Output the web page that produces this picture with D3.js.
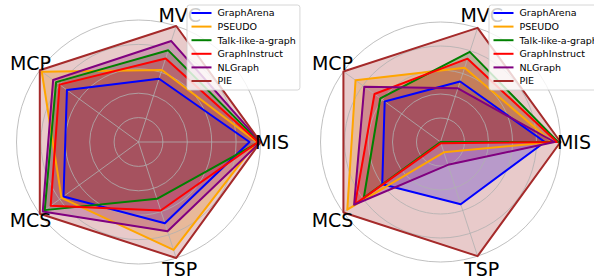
<!DOCTYPE html>
<html>
<head>
<meta charset="utf-8">
<script src="https://cdn.jsdelivr.net/npm/d3@7"></script>
<style>
  body { margin: 0; background: #fff; }
  svg { display: block; font-family: "DejaVu Sans", sans-serif; }
</style>
</head>
<body>
<div id="chart"></div>
<script>
// --- data
var tasks = ['MIS', 'MVC', 'MCP', 'MCS', 'TSP'];
var methods = ['GraphArena', 'PSEUDO', 'Talk-like-a-graph', 'GraphInstruct', 'NLGraph', 'PIE'];
var colors = ['blue', 'orange', 'green', 'red', 'purple', 'brown'];
var gridLevels = [0.2, 0.4, 0.6, 0.8, 1.0];

// normalised scores, one row per method, columns in task order
var leftScores = [
  [0.91, 0.545, 0.725, 0.76, 0.70],
  [0.97, 0.62, 0.98, 0.78, 0.93],
  [0.99, 0.79, 0.835, 0.95, 0.49],
  [0.98, 0.72, 0.80, 0.89, 0.59],
  [1.00, 0.87, 0.865, 0.97, 0.77],
  [1.00, 1.00, 1.00, 1.00, 1.00]
];
var rightScores = [
  [0.87, 0.53, 0.575, 0.60, 0.545],
  [0.93, 0.65, 0.875, 0.96, 0.09],
  [0.98, 0.79, 0.62, 0.79, 0.00],
  [0.97, 0.73, 0.68, 0.88, 0.01],
  [0.95, 0.47, 0.785, 0.89, 0.20],
  [1.00, 1.00, 1.00, 1.00, 1.00]
];

// --- layout
var W = 594, H = 280;
var panels = [
  {cx: 138.5, cy: 142, R: 122, scores: leftScores},
  {cx: 440.5, cy: 142, R: 120, scores: rightScores}
];

var svg = d3.select('#chart').append('svg')
  .attr('width', W)
  .attr('height', H);

// math angle, counter-clockwise from east (like matplotlib polar)
var angle = d3.scaleLinear().domain([0, tasks.length]).range([0, 2 * Math.PI]);

function drawPanel(p) {
  var r = d3.scaleLinear().domain([0, 1]).range([0, p.R]);
  var g = svg.append('g').attr('transform', 'translate(' + p.cx + ',' + p.cy + ')');

  var radar = d3.lineRadial()
    .angle(function(d, i) { return Math.PI / 2 - angle(i); })
    .radius(function(d) { return r(d); })
    .curve(d3.curveLinearClosed);

  // fills first (patches sit under grid and lines)
  g.selectAll('path.area').data(p.scores).join('path')
    .attr('class', 'area')
    .attr('d', radar)
    .attr('fill', function(d, i) { return colors[i]; })
    .attr('fill-opacity', 0.25)
    .attr('stroke', function(d, i) { return colors[i]; })
    .attr('stroke-opacity', 0.25)
    .attr('stroke-width', 1);

  // grid
  g.selectAll('circle.grid').data(gridLevels).join('circle')
    .attr('class', 'grid')
    .attr('r', function(d) { return r(d); })
    .attr('fill', 'none')
    .attr('stroke', '#b0b0b0')
    .attr('stroke-width', 0.8);

  g.selectAll('line.spoke').data(tasks).join('line')
    .attr('class', 'spoke')
    .attr('x1', 0).attr('y1', 0)
    .attr('x2', function(d, i) { return r(1) * Math.cos(angle(i)); })
    .attr('y2', function(d, i) { return -r(1) * Math.sin(angle(i)); })
    .attr('stroke', '#b0b0b0')
    .attr('stroke-width', 0.8);

  // outlines
  g.selectAll('path.outline').data(p.scores).join('path')
    .attr('class', 'outline')
    .attr('d', radar)
    .attr('fill', 'none')
    .attr('stroke', function(d, i) { return colors[i]; })
    .attr('stroke-width', 2)
    .attr('stroke-linejoin', 'round');

  // task labels
  var labelR = 133.5;
  g.selectAll('text.task').data(tasks).join('text')
    .attr('class', 'task')
    .attr('x', function(d, i) { return labelR * Math.cos(angle(i)); })
    .attr('y', function(d, i) { return -labelR * Math.sin(angle(i)); })
    .attr('dy', '0.36em')
    .attr('text-anchor', 'middle')
    .style('font-size', '19px')
    .style('fill', '#000')
    .text(function(d) { return d; });

  // legend
  var lg = svg.append('g').attr('transform', 'translate(' + (p.cx + 48.5) + ',5)');
  var box = lg.append('rect')
    .attr('x', 0).attr('y', 0)
    .attr('height', 85)
    .attr('rx', 2.5)
    .attr('fill', '#fff')
    .attr('fill-opacity', 0.8)
    .attr('stroke', '#cccccc')
    .attr('stroke-width', 0.8);

  var rows = lg.selectAll('g.row').data(methods).join('g')
    .attr('class', 'row')
    .attr('transform', function(d, i) { return 'translate(0,' + (8 + i * 13.6) + ')'; });

  rows.append('line')
    .attr('x1', 4.5).attr('x2', 24.5)
    .attr('y1', 0).attr('y2', 0)
    .attr('stroke', function(d, i) { return colors[i]; })
    .attr('stroke-width', 2);

  var labels = rows.append('text')
    .attr('x', 30.5)
    .attr('dy', '0.35em')
    .style('font-size', '9.5px')
    .style('fill', '#000')
    .text(function(d) { return d; });

  var maxW = d3.max(labels.nodes(), function(n) { return n.getComputedTextLength(); });
  box.attr('width', 30.5 + maxW + 4);
}

panels.forEach(drawPanel);
</script>
</body>
</html>
